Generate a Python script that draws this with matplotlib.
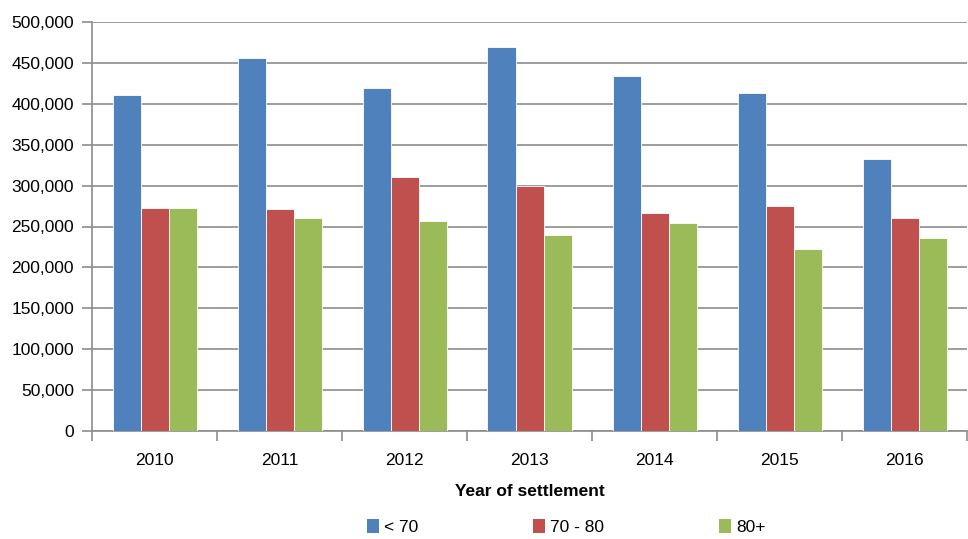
import matplotlib
matplotlib.use("Agg")
import matplotlib.pyplot as plt
import numpy as np
from matplotlib.ticker import FuncFormatter, FixedLocator
from matplotlib.patches import Patch

years = ["2010", "2011", "2012", "2013", "2014", "2015", "2016"]
under70 = [411000, 456000, 419000, 470000, 434000, 413500, 333000]
from70to80 = [273000, 271000, 311000, 300000, 267000, 275000, 261000]
over80 = [273000, 260500, 257000, 240000, 254000, 222000, 236000]
series_names = ["< 70", "70 - 80", "80+"]
colors = ["#4F81BD", "#C0504D", "#9BBB59"]

plt.rcParams['font.family'] = ['Liberation Sans Narrow', 'Liberation Sans', 'DejaVu Sans']

fig = plt.figure(figsize=(9.68, 5.39), dpi=100)
ax = fig.add_axes([92/968, 1 - 431/539, (967-92)/968, (431-22)/539])

x = np.arange(len(years))
w = 0.224
for i, (vals, c) in enumerate(zip([under70, from70to80, over80], colors)):
    ax.bar(x + (i - 1) * w, vals, width=w, color=c, edgecolor='white', linewidth=0.6, zorder=3)

ax.set_xlim(-0.5, len(years) - 0.5)
ax.set_ylim(0, 500000)
ax.set_yticks(np.arange(0, 500001, 50000))
ax.yaxis.set_major_formatter(FuncFormatter(lambda v, p: f"{int(v):,}"))
ax.grid(axis='y', color='#8c8c8c', linewidth=1.2, zorder=0)
ax.set_axisbelow(True)

ax.set_xticks(x)
ax.set_xticklabels(years)
ax.xaxis.set_minor_locator(FixedLocator(np.arange(-0.5, len(years), 1.0)))
ax.tick_params(axis='x', which='major', length=0, pad=16, labelsize=12.5)
ax.tick_params(axis='x', which='minor', length=7, color='#8c8c8c', width=1.2)
ax.tick_params(axis='y', length=7, color='#8c8c8c', width=1.2, labelsize=12.5, pad=6)

for s in ['top', 'right']:
    ax.spines[s].set_visible(False)
for s in ['left', 'bottom']:
    ax.spines[s].set_color('#8c8c8c')
    ax.spines[s].set_linewidth(1.2)

ax.set_xlabel("Year of settlement", fontsize=12.5, fontweight='bold', labelpad=11)

handles = [Patch(facecolor=c, edgecolor='none') for c in colors]
fig.legend(handles, series_names, loc='lower center', bbox_to_anchor=(0.585, -0.022), ncol=3,
           frameon=False, fontsize=12.5, handlelength=0.7, handleheight=0.9,
           handletextpad=0.3, columnspacing=6.6)

fig.savefig("out.png", dpi=100)
